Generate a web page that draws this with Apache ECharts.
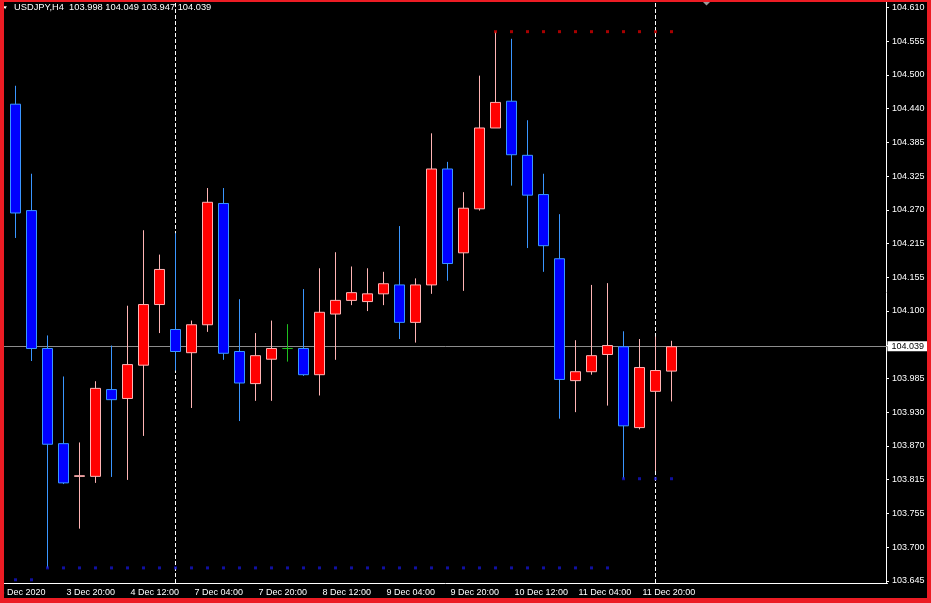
<!DOCTYPE html>
<html>
<head>
<meta charset="utf-8">
<script src="https://cdn.jsdelivr.net/npm/echarts@6/dist/echarts.min.js"></script>
<style>
  html, body { margin: 0; padding: 0; background: #ec1c24; }
  #chart { position: absolute; left: 4px; top: 2px; width: 923px; height: 596px; background: #000; }
</style>
</head>
<body>
<div id="chart"></div>
<script>
const symbolName = 'USDJPY,H4'

// H4 bars (index 0 is the bar cut off at the left edge), then empty slots for the chart shift
const times = [
  '3 Dec 04:00', '3 Dec 08:00', '3 Dec 12:00', '3 Dec 16:00', '3 Dec 20:00',
  '4 Dec 00:00', '4 Dec 04:00', '4 Dec 08:00', '4 Dec 12:00', '4 Dec 16:00', '4 Dec 20:00',
  '7 Dec 00:00', '7 Dec 04:00', '7 Dec 08:00', '7 Dec 12:00', '7 Dec 16:00', '7 Dec 20:00',
  '8 Dec 00:00', '8 Dec 04:00', '8 Dec 08:00', '8 Dec 12:00', '8 Dec 16:00', '8 Dec 20:00',
  '9 Dec 00:00', '9 Dec 04:00', '9 Dec 08:00', '9 Dec 12:00', '9 Dec 16:00', '9 Dec 20:00',
  '10 Dec 00:00', '10 Dec 04:00', '10 Dec 08:00', '10 Dec 12:00', '10 Dec 16:00', '10 Dec 20:00',
  '11 Dec 00:00', '11 Dec 04:00', '11 Dec 08:00', '11 Dec 12:00', '11 Dec 16:00', '11 Dec 20:00',
  '14 Dec 00:00', '14 Dec 04:00',
  '14 Dec 08:00', '14 Dec 12:00', '14 Dec 16:00', '14 Dec 20:00',
  '15 Dec 00:00', '15 Dec 04:00', '15 Dec 08:00', '15 Dec 12:00', '15 Dec 16:00', '15 Dec 20:00',
  '16 Dec 00:00', '16 Dec 04:00', '16 Dec 08:00'
]

const open = [null,
  104.447, 104.268, 104.036, 103.876, 103.821, 103.821, 103.967, 103.952, 104.008, 104.110,
  104.068, 104.029, 104.076, 104.280, 104.031, 103.977, 104.018, 104.036, 104.036, 103.992,
  104.094, 104.117, 104.115, 104.128, 104.143, 104.080, 104.143, 104.338, 104.197, 104.271,
  104.407, 104.452, 104.361, 104.295, 104.187, 103.982, 103.997, 104.026, 104.039, 103.903,
  103.964, 103.998]
const high = [null,
  104.478, 104.330, 104.058, 103.989, 103.878, 103.981, 104.041, 104.108, 104.235, 104.194,
  104.230, 104.083, 104.306, 104.306, 104.119, 104.062, 104.083, 104.077, 104.136, 104.171,
  104.198, 104.174, 104.171, 104.165, 104.242, 104.154, 104.398, 104.350, 104.299, 104.495,
  104.569, 104.557, 104.420, 104.330, 104.262, 104.050, 104.143, 104.146, 104.065, 104.052,
  104.056, 104.049]
const low = [null,
  104.222, 104.015, 103.667, 103.808, 103.733, 103.810, 103.820, 103.815, 103.889, 104.062,
  103.999, 103.936, 104.064, 104.017, 103.914, 103.948, 103.948, 104.014, 103.990, 103.957,
  104.017, 104.109, 104.099, 104.109, 104.052, 104.046, 104.128, 104.150, 104.133, 104.268,
  104.407, 104.310, 104.205, 104.165, 103.918, 103.929, 103.992, 103.940, 103.817, 103.900,
  103.830, 103.947]
const close = [null,
  104.264, 104.036, 103.875, 103.810, 103.822, 103.969, 103.950, 104.009, 104.110, 104.169,
  104.031, 104.076, 104.282, 104.028, 103.978, 104.024, 104.036, 104.036, 103.992, 104.097,
  104.117, 104.130, 104.128, 104.145, 104.080, 104.143, 104.338, 104.179, 104.272, 104.407,
  104.450, 104.362, 104.294, 104.209, 103.984, 103.997, 104.024, 104.041, 103.906, 104.004,
  103.999, 104.039]

// dotted levels: [first bar, last bar] and price
const redDotBars = [31, 42]
const redDotLevel = 104.569
const blueDotBars = [3, 38]
const blueDotLevel = 103.667
const blueDot2Bars = [39, 42]
const blueDot2Level = 103.817
const blueDot3Bars = [1, 2]
const blueDot3Level = 103.647

const separators = ['7 Dec 00:00', '14 Dec 00:00']

// x labels
const xTickIdx = [0, 4, 8, 12, 16, 20, 24, 28, 32, 36, 40]
const xTickText = ['3 Dec 2020', '3 Dec 20:00', '4 Dec 12:00', '7 Dec 04:00', '7 Dec 20:00',
  '8 Dec 12:00', '9 Dec 04:00', '9 Dec 20:00', '10 Dec 12:00', '11 Dec 04:00', '11 Dec 20:00']

// y labels, bottom to top (the one under the price box is hidden)
const yLabels = ['103.645', '103.700', '103.755', '103.815', '103.870', '103.930', '103.985', '',
  '104.100', '104.155', '104.215', '104.270', '104.325', '104.385', '104.440', '104.500',
  '104.555', '104.610']
const yTickLow = 103.645
const yTickHigh = 104.610
const yMin = 103.6416
const yMax = 104.6189

const yStep = (yTickHigh - yTickLow) / (yLabels.length - 1)
const yTickVals = yLabels.map((_, i) => yTickLow + i * yStep)

const candles = open.map((o, i) => o == null ? '-' : [o, close[i], low[i], high[i]])
const dots = (bars, level) => {
  const out = []
  for (let i = bars[0]; i <= bars[1]; i++) out.push([i, level])
  return out
}

const last = open.length - 1
const titleText = symbolName + '  ' + [open[last], high[last], low[last], close[last]].map(v => v.toFixed(3)).join(' ')
const font = '"Liberation Sans", Arial, sans-serif'

const chart = echarts.init(document.getElementById('chart'))
chart.setOption({
  backgroundColor: '#000',
  animation: false,
  grid: { left: -12.5, top: 0, width: 896, bottom: 15, containLabel: false, outerBoundsMode: 'none' },
  xAxis: {
    type: 'category',
    data: times,
    boundaryGap: true,
    axisLine: { lineStyle: { color: '#fff', width: 1 } },
    axisTick: {
      alignWithLabel: true, length: 4,
      lineStyle: { color: '#fff' },
      interval: (i) => i > 0 && xTickIdx.includes(i),
    },
    axisLabel: {
      interval: (i) => xTickIdx.includes(i),
      formatter: (v, i) => {
        const k = xTickIdx.indexOf(i)
        if (k < 0) return ''
        return k === 0 ? '{f|' + xTickText[k] + '}' : '{n|' + xTickText[k] + '}'
      },
      rich: {
        f: { color: '#fff', fontSize: 9, fontFamily: font },
        n: { color: '#fff', fontSize: 9, fontFamily: font, padding: [0, 0, 0, 3] },
      },
      align: 'left', margin: 5, color: '#fff', fontSize: 9, fontFamily: font,
    },
    splitLine: { show: false },
  },
  yAxis: {
    type: 'value', position: 'right', min: yMin, max: yMax, offset: -1.5,
    axisLine: { show: true, lineStyle: { color: '#fff', width: 1 } },
    axisTick: { show: true, length: 3, lineStyle: { color: '#fff' }, customValues: yTickVals },
    axisLabel: {
      customValues: yTickVals,
      formatter: (v) => yLabels[Math.round((v - yTickLow) / yStep)] || '',
      color: '#fff', fontSize: 9, fontFamily: font, margin: 6,
    },
    splitLine: { show: false },
  },
  graphic: [
    { type: 'polygon', shape: { points: [[-0.7, 4.2], [2.9, 4.2], [1.1, 7.2]] }, style: { fill: '#fff' } },
    { type: 'polygon', shape: { points: [[699, 0], [706, 0], [702.5, 3.5]] }, style: { fill: '#9a9a9a' } },
    {
      type: 'text', x: 10, y: 5.5, z: 100,
      style: { text: titleText, fill: '#fff', font: '9.3px ' + font, verticalAlign: 'middle', textVerticalAlign: 'middle' },
    },
  ],
  series: [
    {
      // price line and week separators, behind the candles
      type: 'line', data: [], z: 1, silent: true,
      markLine: {
        silent: true, symbol: 'none', animation: false, z: 1,
        data: [
          {
            yAxis: close[last],
            lineStyle: { color: '#8c8c8c', type: 'solid', width: 1 },
            label: {
              show: true, position: 'end', distance: 0,
              formatter: close[last].toFixed(3),
              backgroundColor: '#fff', color: '#000', fontSize: 9, fontFamily: font,
              padding: [1, 6, 0, 4],
            },
          },
          ...separators.map(s => ({
            xAxis: s,
            lineStyle: { color: '#fff', type: [4, 2], width: 1 },
            label: { show: false },
          })),
        ],
      },
    },
    {
      type: 'candlestick', data: candles, barWidth: 10, z: 3,
      itemStyle: {
        color: '#ff0000', color0: '#0000ff',
        borderColor: '#ffb4b4', borderColor0: '#3a96ff',
        borderColorDoji: '#1fbf1f', borderWidth: 1,
      },
    },
    { type: 'scatter', data: dots(redDotBars, redDotLevel), symbol: 'rect', symbolSize: 3, z: 4, silent: true, itemStyle: { color: '#d10000' } },
    { type: 'scatter', data: dots(blueDotBars, blueDotLevel), symbol: 'rect', symbolSize: 3, z: 4, silent: true, itemStyle: { color: '#1414c8' } },
    { type: 'scatter', data: dots(blueDot2Bars, blueDot2Level), symbol: 'rect', symbolSize: 3, z: 4, silent: true, itemStyle: { color: '#1414c8' } },
    { type: 'scatter', data: dots(blueDot3Bars, blueDot3Level), symbol: 'rect', symbolSize: 3, z: 4, silent: true, itemStyle: { color: '#1414c8' } },
  ],
})
</script>
</body>
</html>
